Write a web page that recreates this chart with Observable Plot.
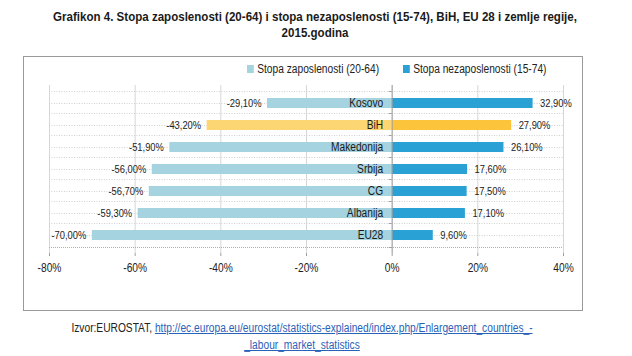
<!DOCTYPE html>
<html><head><meta charset="utf-8">
<script src="https://cdn.jsdelivr.net/npm/d3@7"></script>
<script src="https://cdn.jsdelivr.net/npm/@observablehq/plot@0.6"></script>
<style>
body{margin:0;background:#fff;width:632px;height:356px;overflow:hidden;position:relative;font-family:"Liberation Sans",Arial,sans-serif;color:#1a1a1a}
#title{position:absolute;left:0;top:9px;width:630px;text-align:center;font-weight:bold;font-size:13.6px;line-height:16px;transform:scaleX(0.85);transform-origin:315px 50%}
#frame{position:absolute;left:23px;top:56px;width:560px;height:255px;border:1px solid #9a9a9a;box-sizing:border-box}
.leg{position:absolute;top:62px;font-size:12px;line-height:14px;white-space:nowrap;transform:scaleX(0.85);transform-origin:0 50%;color:#222}
.sw{display:inline-block;width:8px;height:8px;margin-right:4px;vertical-align:0px}
#chart{position:absolute;left:23px;top:80px}
#caption{position:absolute;left:0;top:320px;width:604px;text-align:center;font-size:12px;line-height:17px;transform:scaleX(0.85);transform-origin:302px 50%;color:#222}
#caption a{color:#2a62b8;text-decoration:underline}
</style></head>
<body>
<div id="title">Grafikon 4. Stopa zaposlenosti (20-64) i stopa nezaposlenosti (15-74), BiH, EU 28 i zemlje regije,<br>2015.godina</div>
<div id="frame"></div>
<div class="leg" id="leg1" style="left:247px"></div>
<div class="leg" id="leg2" style="left:403px"></div>
<div id="chart"></div>
<div id="caption">Izvor:EUROSTAT, <a>http://ec.europa.eu/eurostat/statistics-explained/index.php/Enlargement_countries_-</a><br><a>_labour_market_statistics</a></div>
<script>
const categories = ["Kosovo","BiH","Makedonija","Srbija","CG","Albanija","EU28"];
const employment = [-29.1,-43.2,-51.9,-56.0,-56.7,-59.3,-70.0];
const unemployment = [32.9,27.9,26.1,17.6,17.5,17.1,9.6];
const xTicks = [-80,-60,-40,-20,0,20,40];
const seriesNames = ["Stopa zaposlenosti (20-64)","Stopa nezaposlenosti (15-74)"];
const highlight = "BiH";

const colEmp = "#a5d3df", colUnemp = "#2aa1d5", colEmpHi = "#fcd672", colUnempHi = "#fcc43a";

document.getElementById("leg1").innerHTML = `<span class="sw" style="background:${colEmp}"></span>${seriesNames[0]}`;
document.getElementById("leg2").innerHTML = `<span class="sw" style="background:${colUnemp}"></span>${seriesNames[1]}`;

const rows = categories.map((c,i)=>({cat:c, emp:employment[i], unemp:unemployment[i]}));
const fmt = v => (v<0?"-":"") + Math.abs(v).toFixed(2).replace(".",",") + "%";
const last = categories[categories.length-1];

const chart = Plot.plot({
  width: 560, height: 200,
  marginLeft: 26, marginRight: 20, marginTop: 5, marginBottom: 27,
  style: {fontFamily: '"Liberation Sans",Arial,sans-serif', fontSize: "12px", color: "#222", background: "transparent"},
  x: {domain: [-80, 40], ticks: xTicks, tickFormat: d => d + "%", label: null},
  y: {domain: categories, padding: 0.54, axis: null},
  marks: [
    Plot.ruleX(xTicks, {stroke: "#d6d6d6", strokeWidth: 1}),
    Plot.ruleY(categories, {y: d => d, dy: -12, stroke: "#d0d0d0", strokeDasharray: "1,1.5"}),
    Plot.ruleY(categories, {y: d => d, stroke: "#d0d0d0", strokeDasharray: "1,1.5"}),
    Plot.ruleY([last], {y: d => d, dy: 12, stroke: "#b0b0b0", strokeDasharray: "1,1"}),
    Plot.barX(rows, {x: "emp", y: "cat", fill: d => d.cat === highlight ? colEmpHi : colEmp}),
    Plot.barX(rows, {x: "unemp", y: "cat", fill: d => d.cat === highlight ? colUnempHi : colUnemp}),
    Plot.ruleX([0], {stroke: "#a0a0a0"}),
    Plot.ruleY(categories, {y: d => d, dy: -12, x1: 0, x2: 0, insetLeft: -3, stroke: "#a0a0a0"}),
    Plot.ruleY([last], {y: d => d, dy: 12, x1: 0, x2: 0, insetLeft: -3, stroke: "#a0a0a0"}),
    Plot.text(rows, {x: "emp", y: "cat", text: d => fmt(d.emp), textAnchor: "end", dx: -6, fontSize: 11, fill: "#222"}),
    Plot.text(rows, {x: "unemp", y: "cat", text: d => fmt(d.unemp), textAnchor: "start", dx: 7, fontSize: 11, fill: "#222"}),
    Plot.text(rows, {x: 0, y: "cat", text: "cat", textAnchor: "end", dx: -9, fontSize: 12, fill: "#1a1a1a"}),
    Plot.axisX({ticks: xTicks, tickFormat: d => d + "%", tickSize: 3, tickPadding: 7, fontSize: 12, stroke: "#a0a0a0", fill: "#222", label: null})
  ]
});
document.getElementById("chart").appendChild(chart);
// horizontally condense text like the reference
chart.querySelectorAll("text").forEach(t => {
  const targets = t.querySelectorAll("tspan").length ? t.querySelectorAll("tspan") : [t];
  targets.forEach(el => {
    const w = el.getComputedTextLength();
    if (w > 0) {
      el.setAttribute("textLength", (w * 0.85).toFixed(2));
      el.setAttribute("lengthAdjust", "spacingAndGlyphs");
    }
  });
});
</script>
</body></html>
